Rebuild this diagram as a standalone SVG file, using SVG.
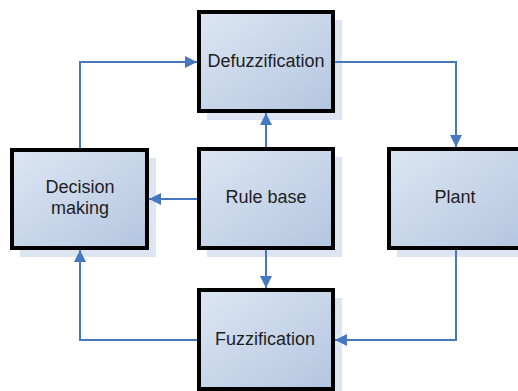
<svg xmlns="http://www.w3.org/2000/svg" width="518" height="391" viewBox="0 0 518 391">
  <defs>
    <linearGradient id="boxFill" x1="0" y1="0" x2="1" y2="1">
      <stop offset="0" stop-color="#dde6f3"/>
      <stop offset="1" stop-color="#b3c6e0"/>
    </linearGradient>
    <marker id="arrow" viewBox="0 0 12 12" refX="12" refY="6" markerWidth="12" markerHeight="12" markerUnits="userSpaceOnUse" orient="auto">
      <path d="M0,0 L12,6 L0,12 Z" fill="#4677c0"/>
    </marker>
  </defs>
  <style>
    .shadow { fill: #dde5f2; }
    .box { fill: url(#boxFill); stroke: #000; stroke-width: 4; }
    .label { font-family: "Liberation Sans", Arial, sans-serif; font-size: 18px; fill: #1e1e1e; text-anchor: middle; }
    .wire { fill: none; stroke: #4677c0; stroke-width: 2; marker-end: url(#arrow); }
  </style>
  <rect width="518" height="391" fill="#fff"/>

  <!-- drop shadows -->
  <rect class="shadow" x="207" y="20" width="135" height="100"/>
  <rect class="shadow" x="20" y="158" width="136" height="99"/>
  <rect class="shadow" x="207" y="157" width="135" height="100"/>
  <rect class="shadow" x="397" y="157" width="135" height="100"/>
  <rect class="shadow" x="207" y="298" width="135" height="100"/>

  <g id="defuzzification">
    <rect class="box" x="199" y="12" width="134" height="99"/>
    <text class="label" x="266" y="67">Defuzzification</text>
  </g>
  <g id="decision-making">
    <rect class="box" x="12" y="150" width="135" height="98"/>
    <text class="label" x="80" y="193">Decision</text>
    <text class="label" x="80" y="214">making</text>
  </g>
  <g id="rule-base">
    <rect class="box" x="199" y="149" width="134" height="99"/>
    <text class="label" x="266" y="203">Rule base</text>
  </g>
  <g id="plant">
    <rect class="box" x="389" y="149" width="134" height="99"/>
    <text class="label" x="455" y="203">Plant</text>
  </g>
  <g id="fuzzification">
    <rect class="box" x="199" y="290" width="134" height="99"/>
    <text class="label" x="265" y="345">Fuzzification</text>
  </g>

  <g id="connectors">
    <path class="wire" d="M80,148 V62 H197"/>
    <path class="wire" d="M335,62 H456 V147"/>
    <path class="wire" d="M266,147 V113"/>
    <path class="wire" d="M197,199 H149"/>
    <path class="wire" d="M266,250 V288"/>
    <path class="wire" d="M456,250 V340 H335"/>
    <path class="wire" d="M197,340 H80 V250"/>
  </g>
</svg>
